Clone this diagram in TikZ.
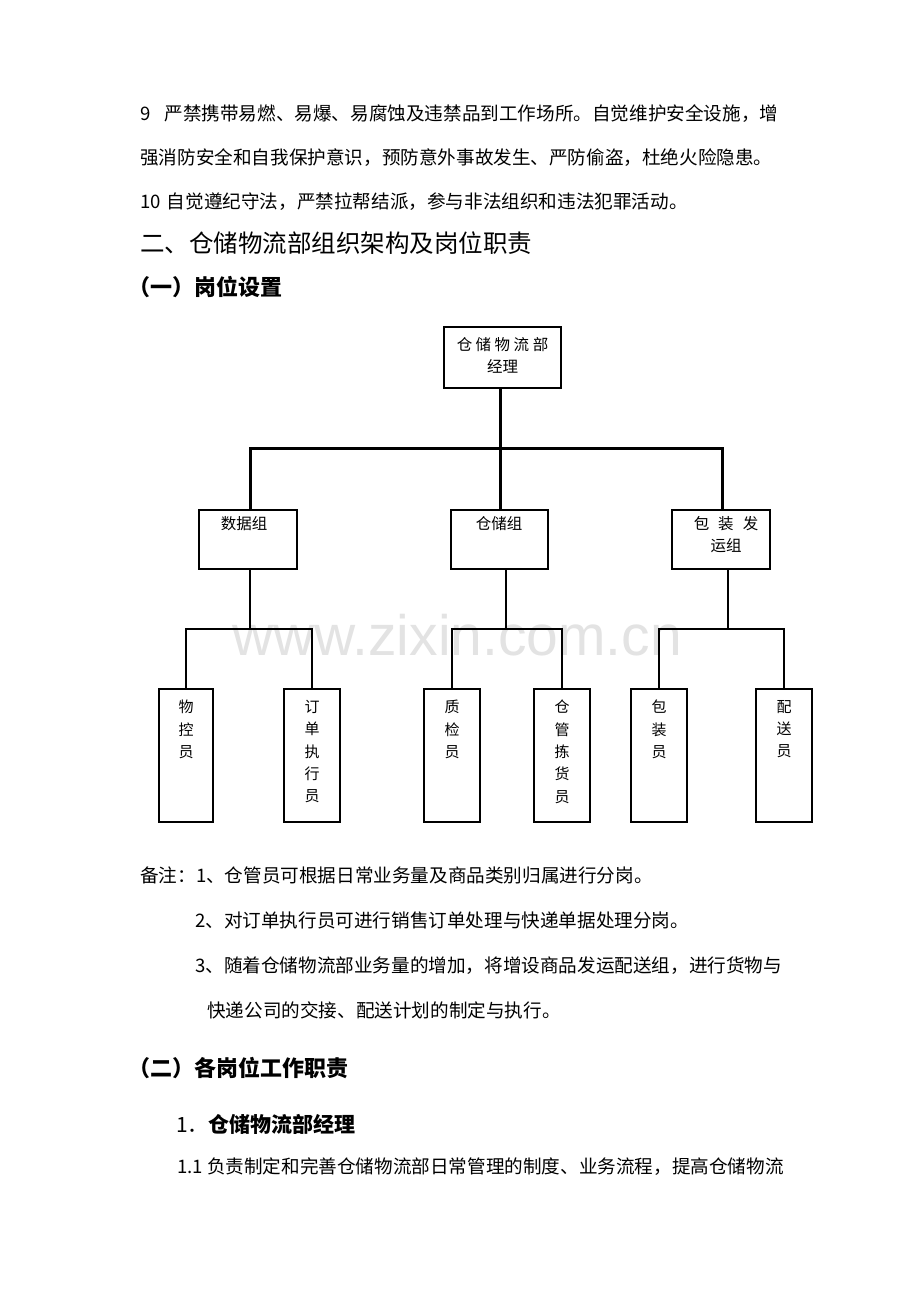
\documentclass[tikz,border=0pt]{standalone}
\usepackage{fontspec}
\setmainfont{Noto Sans CJK SC}
\newfontfamily\cjk{Noto Sans CJK SC}
\newfontfamily\wmfont{Liberation Sans}
\definecolor{wmgray}{HTML}{E3E3E3}
\tikzset{
  box/.style={draw=black, line width=2pt, fill=white, inner sep=0pt},
  conn/.style={line width=3pt},
  conn2/.style={line width=2.6pt},
  body/.style={inner sep=0pt, anchor=base west, font=\cjk\fontsize{18.6}{22}\selectfont},
  head/.style={inner sep=0pt, anchor=base west, font=\cjk\fontsize{24.5}{28}\selectfont},
  subhead/.style={inner sep=0pt, anchor=base west, font=\cjk\bfseries\fontsize{22}{26}\selectfont},
  boxtext/.style={inner sep=0pt, align=center, font=\cjk\fontsize{15.5}{22}\selectfont},
  stafftext/.style={inner sep=0pt, anchor=north, align=center, font=\cjk\fontsize{15}{22.3}\selectfont},
}
\begin{document}
\begin{tikzpicture}[x=1pt,y=-1pt]
\fill[white] (0,0) rectangle (920,1302);
\useasboundingbox (0,0) rectangle (920,1302);

% watermark
\node[inner sep=0pt, anchor=base west, text=wmgray, font=\wmfont\fontsize{57}{60}\selectfont] (wm) at (232,655) {www.zixin.com.cn};

% body text above
\node[body] (t1) at (140,120) {9\hspace{14pt}严禁携带易燃、易爆、易腐蚀及违禁品到工作场所。自觉维护安全设施，增};
\node[body] (t2) at (140,164) {强消防安全和自我保护意识，预防意外事故发生、严防偷盗，杜绝火险隐患。};
\node[body] (t3) at (140,208) {10\hspace{6pt}自觉遵纪守法，严禁拉帮结派，参与非法组织和违法犯罪活动。};
\node[head] (h1) at (140,252) {二、仓储物流部组织架构及岗位职责};
\node[subhead] (h2) at (128,295) {（一）岗位设置};

% chart boxes
\node[box, minimum width=117pt, minimum height=61pt] (m) at (502.5,357.5) {};
\node[boxtext, anchor=north] (mt) at (502.5,337) {仓\hspace{3.5pt}储\hspace{3.5pt}物\hspace{3.5pt}流\hspace{3.5pt}部\\经理};

\node[box, minimum width=98pt, minimum height=59pt] (g1) at (248,539.5) {};
\node[box, minimum width=97pt, minimum height=59pt] (g2) at (499.5,539.5) {};
\node[box, minimum width=98pt, minimum height=59pt] (g3) at (721,539.5) {};
\node[boxtext, anchor=north] (g1t) at (244,516) {数据组};
\node[boxtext, anchor=north] (g2t) at (499,516) {仓储组};
\node[boxtext, anchor=north] (g3t) at (726,516) {包\hspace{9pt}装\hspace{9pt}发\\运组};

\node[box, minimum width=54pt, minimum height=133pt] (s1) at (186,755.5) {};
\node[box, minimum width=56pt, minimum height=133pt] (s2) at (312,755.5) {};
\node[box, minimum width=56pt, minimum height=133pt] (s3) at (452,755.5) {};
\node[box, minimum width=56pt, minimum height=133pt] (s4) at (562,755.5) {};
\node[box, minimum width=56pt, minimum height=133pt] (s5) at (659,755.5) {};
\node[box, minimum width=56pt, minimum height=133pt] (s6) at (784,755.5) {};
\node[stafftext] (s1t) at (186,700) {物\\控\\员};
\node[stafftext] (s2t) at (312,700) {订\\单\\执\\行\\员};
\node[stafftext] (s3t) at (452,700) {质\\检\\员};
\node[stafftext] (s4t) at (562,700) {仓\\管\\拣\\货\\员};
\node[stafftext] (s5t) at (659,700) {包\\装\\员};
\node[stafftext] (s6t) at (784,700) {配\\送\\员};

% connectors
\coordinate (j0) at (500,448);
\coordinate (k1) at (250,448);
\coordinate (k3) at (722,448);
\draw[conn] (m.south -| j0) -- (j0);
\draw[conn] (g1.north -| k1) -- (k1) -- (k3) -- (g3.north -| k3);
\draw[conn] (j0) -- (g2.north -| j0);

\coordinate (j1) at (250,629);
\coordinate (j2) at (506,629);
\coordinate (j3) at (728,629);
\draw[conn2] (g1.south -| j1) -- (j1);
\draw[conn2] (g2.south -| j2) -- (j2);
\draw[conn2] (g3.south -| j3) -- (j3);
\draw[conn2] (s1.north) |- (j1) -| (s2.north);
\draw[conn2] (s3.north) |- (j2) -| (s4.north);
\draw[conn2] (s5.north) |- (j3) -| (s6.north);

% notes
\node[body] (n1) at (140,882) {备注：1、仓管员可根据日常业务量及商品类别归属进行分岗。};
\node[body] (n2) at (195,927) {2、对订单执行员可进行销售订单处理与快递单据处理分岗。};
\node[body] (n3) at (195,972) {3、随着仓储物流部业务量的增加，将增设商品发运配送组，进行货物与};
\node[body] (n4) at (207,1017) {快递公司的交接、配送计划的制定与执行。};

\node[subhead] (h3) at (128,1076) {（二）各岗位工作职责};
\node[inner sep=0pt, anchor=base west, font=\cjk\fontsize{21}{24}\selectfont] (h4) at (176,1132) {1．\textbf{仓储物流部经理}};
\node[body] (p1) at (177,1173) {1.1 负责制定和完善仓储物流部日常管理的制度、业务流程，提高仓储物流};
\end{tikzpicture}
\end{document}
